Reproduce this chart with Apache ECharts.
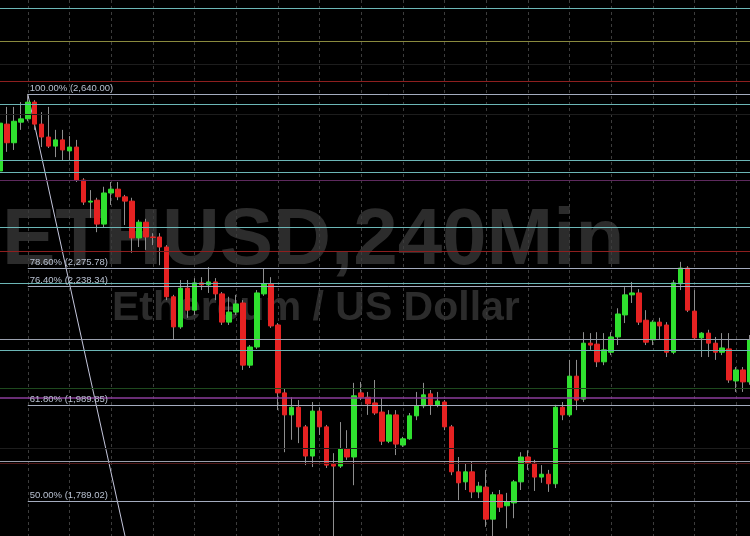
<!DOCTYPE html>
<html>
<head>
<meta charset="utf-8">
<script src="https://cdn.jsdelivr.net/npm/echarts@6/dist/echarts.min.js"></script>
<style>
html,body{margin:0;padding:0;background:#000;}
#chart{width:750px;height:536px;}
</style>
</head>
<body>
<div id="chart"></div>
<script>
// ---- Data (ETHUSD 240 min candles) ----
const opens = [2479,2577,2538,2581,2588,2623,2577,2550,2531,2544,2521,2529,2460,2414,2418,2368,2433,2441,2425,2416,
2339,2372,2341,2341,2320,2216,2153,2234,2188,2245,2241,2247,2222,2163,2184,2203,2073,2111,2222,2243,
2157,2015,1969,1985,1944,1883,1977,1944,1866,1862,1898,1881,2015,2006,1994,1975,1914,1969,1906,1919,
1967,1988,2013,1990,1996,1944,1850,1829,1850,1808,1818,1751,1802,1779,1785,1829,1881,1868,1839,1845,
1825,1985,1969,2050,2002,2119,2117,2080,2100,2132,2178,2220,2224,2167,2126,2163,2157,2100,2243,2276,
2186,2130,2140,2119,2100,2107,2040,2063,2038];
const closes = [2579,2538,2583,2588,2623,2577,2550,2531,2544,2523,2529,2460,2414,2416,2368,2433,2441,2425,2416,2339,
2372,2341,2340,2320,2216,2153,2234,2188,2245,2241,2247,2222,2163,2184,2201,2073,2111,2224,2243,2155,
2015,1969,1985,1944,1883,1977,1944,1864,1862,1898,1881,2009,2006,1992,1973,1914,1969,1908,1919,1967,
1988,2011,1990,1998,1944,1850,1827,1850,1808,1820,1751,1802,1776,1787,1829,1881,1868,1839,1845,1825,
1985,1969,2050,2000,2119,2115,2080,2105,2132,2180,2220,2224,2163,2121,2163,2155,2100,2245,2276,2188,
2130,2140,2119,2100,2109,2042,2063,2038,2126];
const lows = [2471,2519,2523,2565,2583,2565,2529,2527,2508,2502,2502,2456,2408,2381,2351,2360,2408,2418,2366,2308,
2320,2314,2324,2282,2209,2126,2149,2172,2178,2230,2224,2209,2157,2157,2178,2063,2067,2107,2218,2151,
1979,1891,1917,1910,1864,1860,1927,1858,1712,1858,1875,1822,2000,1969,1969,1906,1910,1885,1902,1917,
1958,1983,1969,1985,1937,1843,1791,1812,1795,1795,1735,1712,1766,1732,1753,1812,1854,1810,1827,1808,
1816,1958,1965,1979,1996,2105,2069,2073,2094,2115,2161,2203,2157,2115,2115,2126,2090,2096,2230,2184,
2126,2090,2090,2084,2094,2036,2017,2017,2032];
const highs = [2590,2613,2613,2623,2640,2627,2602,2613,2565,2565,2552,2544,2464,2439,2423,2446,2456,2456,2429,2423,
2377,2379,2349,2349,2324,2220,2251,2251,2255,2257,2278,2255,2226,2216,2220,2209,2115,2230,2276,2257,
2161,2025,2006,2000,1948,1996,1985,1948,1889,1954,1937,2036,2038,2017,2042,2004,1979,1979,1923,1973,
2017,2036,2021,2017,2000,1948,1881,1868,1871,1829,1854,1808,1812,1806,1833,1891,1895,1875,1864,1854,
1990,1996,2084,2084,2142,2140,2142,2140,2142,2192,2236,2247,2232,2188,2167,2172,2163,2251,2289,2280,
2230,2142,2147,2132,2140,2140,2069,2069,2136];

// Fibonacci retracement levels (ratio %, price)
const fibRatios = [100.0, 78.6, 76.4, 61.8, 50.0];
const fibPrices = [2640.00, 2275.78, 2238.34, 1989.85, 1789.02];
const fibStartIndex = 4;          // candle where the retracement starts (the 2,640 high)
const fibTrend = [[4, 2640], [18, 1715.8]]; // trend line from the high downwards

// Other horizontal levels
const tealLevels = [2820, 2619, 2502, 2477, 2362, 2245, 2105];
const oliveLevels = [2751];
const redLevels = [2667, 2312];
const dimPurpleLevels = [2460];
const purpleLevels = [2004];
const greyLevels = [2128, 1873];
const darkGreenLevels = [2025];
const darkRedLevels = [1868];
const faintLevels = [2703, 2598, 1900];

const yMin = 1715.8, yMax = 2836.5;
const titleText = 'ETHUSD,240Min';
const subtitleText = 'Ethereum / US Dollar';

// ---- Build ----
const categories = opens.map((_, i) => String(i));
const ohlc = opens.map((o, i) => [o, closes[i], lows[i], highs[i]]);
const bodies = opens.map((o, i) => [o, closes[i], Math.min(o, closes[i]), Math.max(o, closes[i])]);

function lvl(arr, color, width) {
  return arr.map(v => ({ yAxis: v, lineStyle: { color: color, width: width || 1, type: 'solid' } }));
}
const fullLines = [].concat(
  lvl(faintLevels, '#1d1d1d'),
  lvl(tealLevels, '#6cb6b6'),
  lvl(oliveLevels, '#8a8a3e'),
  lvl(redLevels, '#8e1f1f'),
  lvl(dimPurpleLevels, '#5e2a5e'),
  lvl(purpleLevels, '#8c3c9c', 1.5),
  lvl(greyLevels, '#9aa0ae'),
  lvl(darkGreenLevels, '#1e4a1e'),
  lvl(darkRedLevels, '#4e1616')
);
const lastIndex = categories.length - 1;
const fmt = n => n.toLocaleString('en-US', { minimumFractionDigits: 2, maximumFractionDigits: 2 });
const fibLines = fibPrices.map((p, k) => [
  { xAxis: fibStartIndex, yAxis: p,
    lineStyle: { color: '#a4acbe', width: 1, type: 'solid' },
    label: { show: true, position: 'insideStartTop', distance: [2, 1],
             formatter: fibRatios[k].toFixed(2) + '% (' + fmt(p) + ')',
             color: '#b8c0d0', fontSize: 9.5, fontFamily: 'Liberation Sans, Arial, sans-serif' } },
  { xAxis: lastIndex, yAxis: p }
]);

const chart = echarts.init(document.getElementById('chart'), null, { renderer: 'canvas' });
chart.setOption({
  backgroundColor: '#000000',
  animation: false,
  graphic: [
    { type: 'text', left: 2, top: 202, z: -10, silent: true,
      style: { text: titleText, font: 'bold 80px "Liberation Sans", Arial, sans-serif', fill: '#2c2c2c' } },
    { type: 'text', left: 112, top: 288, z: -10, silent: true,
      style: { text: subtitleText, font: 'bold 41px "Liberation Sans", Arial, sans-serif', fill: '#2c2c2c' } }
  ],
  grid: { left: 0, right: 0, top: 0, bottom: 0 },
  xAxis: {
    type: 'category', data: categories, boundaryGap: false,
    axisLine: { show: false }, axisTick: { show: false }, axisLabel: { show: false },
    splitLine: { show: true, interval: (idx) => idx % 6 === 4,
                 lineStyle: { color: '#3c3c3c', type: [3, 3], width: 1 } }
  },
  yAxis: {
    type: 'value', min: yMin, max: yMax, show: false, splitLine: { show: false }
  },
  series: [
    {
      type: 'line', name: 'levels', data: [], z: 1, silent: true,
      markLine: { silent: true, symbol: ['none', 'none'], label: { show: false }, animation: false,
                  data: fullLines.concat(fibLines) }
    },
    {
      type: 'line', name: 'trend', data: fibTrend, z: 1, silent: true, symbol: 'none',
      lineStyle: { color: '#c4c6dc', width: 1 }
    },
    {
      type: 'candlestick', name: 'wicks', data: ohlc, barWidth: 1, z: 3,
      itemStyle: { color: '#8e8e8e', color0: '#8e8e8e', borderColor: '#8e8e8e', borderColor0: '#8e8e8e', borderWidth: 1 }
    },
    {
      type: 'candlestick', name: 'ETHUSD', data: bodies, barWidth: 5, z: 4,
      itemStyle: { color: '#2fe02f', color0: '#e62222', borderColor: '#2fe02f', borderColor0: '#e62222', borderWidth: 1 }
    }
  ]
});
</script>
</body>
</html>
